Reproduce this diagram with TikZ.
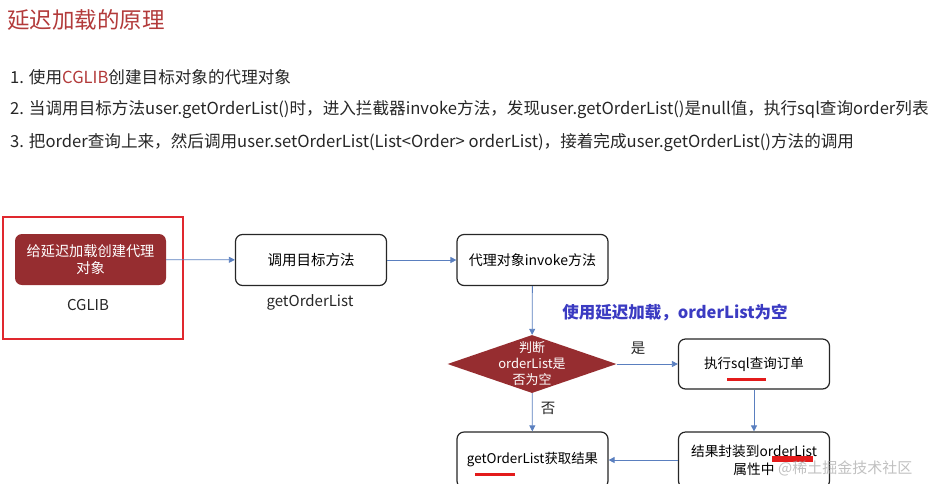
\documentclass[tikz,border=0pt]{standalone}
\usepackage{fontspec}
\setmainfont{Noto Sans CJK SC}
\usetikzlibrary{shapes.geometric,arrows.meta}
\definecolor{titlered}{HTML}{B23A3A}
\definecolor{darkred}{HTML}{962D30}
\definecolor{arrowblue}{HTML}{5A7FBF}
\definecolor{textblue}{HTML}{3B3BC2}
\definecolor{framered}{HTML}{E0282E}
\definecolor{markred}{HTML}{E31B1B}
\begin{document}
\begin{tikzpicture}[x=1pt,y=-1pt,
  every node/.style={inner sep=0pt},
  box/.style={draw=black!85, line width=1.2pt, rounded corners=7pt, fill=white,
    minimum width=151pt, minimum height=51pt, align=center,
    font=\fontsize{14.5}{17}\selectfont},
  lowbox/.style={box, minimum height=56pt, font=\fontsize{13.7}{18}\selectfont},
  redbox/.style={fill=darkred, rounded corners=7pt, minimum width=151pt,
    minimum height=51pt, text=white, align=center,
    font=\fontsize{14.2}{17}\selectfont},
  conn/.style={draw=arrowblue, line width=0.8pt, -{Triangle[width=6pt,length=6pt]}},
  body/.style={anchor=west, font=\fontsize{16.6}{19}\selectfont, text=black!85},
  lbl/.style={font=\fontsize{14.5}{16}\selectfont, text=black!85},
  underl/.style={draw=markred, line width=3pt}
]
\useasboundingbox (0,0) rectangle (931,483);
\clip (0,0) rectangle (931,483);

% title and list
\node[anchor=west, font=\fontsize{22.5}{24}\selectfont, text=titlered] (title) at (7,20) {延迟加载的原理};
\node[body] (l1) at (10,77) {1. 使用{\color{titlered}CGLIB}创建目标对象的代理对象};
\node[body] (l2) at (10,110) {2. 当调用目标方法user.getOrderList()时，进入拦截器invoke方法，发现user.getOrderList()是null值，执行sql查询order列表};
\node[body] (l3) at (10,143) {3. 把order查询上来，然后调用user.setOrderList(List<Order> orderList)，接着完成user.getOrderList()方法的调用};

% red frame
\draw[framered, line width=2pt] (3,217) rectangle (183,339);

% nodes
\node[redbox] (r1) at (90.5,259.5) {给延迟加载创建代理\\对象};
\node[lbl, font=\fontsize{15}{17}\selectfont] (cglib) at (88,305) {CGLIB};
\node[box] (b2) at (311,260) {调用目标方法};
\node[lbl, font=\fontsize{15}{17}\selectfont] (gol) at (310,302) {getOrderList};
\node[box, font=\fontsize{14}{17}\selectfont] (b3) at (532.5,260) {代理对象invoke方法};
\node[font=\bfseries\fontsize{16.5}{18}\selectfont, text=textblue] (note) at (675,313) {使用延迟加载，orderList为空};

\node[diamond, fill=darkred, minimum width=169pt, minimum height=58pt] (dia) at (532,364) {};
\node[text=white, align=center, font=\fontsize{13}{16}\selectfont] (diat) at (532,364) {判断\\orderList是\\否为空};

\node[box, font=\fontsize{13.5}{17}\selectfont, minimum height=50pt] (b4) at (754,364) {执行sql查询订单};
\node[lowbox] (b5) at (754,460) {结果封装到orderList\\属性中};
\node[lowbox, font=\fontsize{13.4}{18}\selectfont] (b6) at (532.5,460) {getOrderList获取结果};

\node[lbl] (yes) at (638,348) {是};
\node[lbl] (no) at (548,408) {否};

% connectors
\draw[conn] (r1) -- (b2);
\draw[conn] (b2) -- (b3);
\draw[conn] (b3) -- (dia);
\draw[conn] (dia) -- (b4);
\draw[conn] (b4) -- (b5);
\draw[conn] (b5) -- (b6);
\draw[conn] (dia) -- (b6);

% red underlines
\draw[underl] (727,379) -- (766,379);
\draw[underl, line width=6pt] (772,459) -- (813,459);
\draw[underl] (475,474) -- (515,474);

% watermark
\node[anchor=west, font=\fontsize{15}{17}\selectfont, text=gray!70, opacity=0.7] (wm) at (778,468) {@稀土掘金技术社区};
\end{tikzpicture}
\end{document}
